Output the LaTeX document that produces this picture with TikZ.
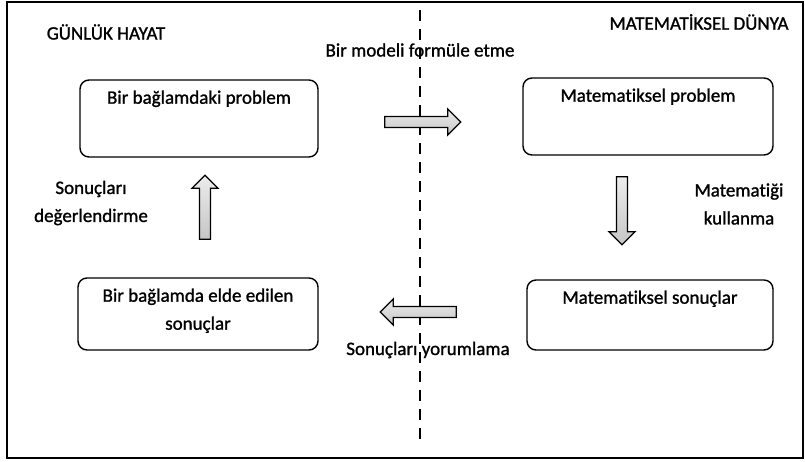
\documentclass[tikz,border=0pt]{standalone}
\usepackage{fontspec}
\setmainfont[Ligatures=NoCommon,FakeBold=1.2]{Carlito}
\usetikzlibrary{shapes.arrows}
\begin{document}
\begin{tikzpicture}[x=1pt,y=-1pt,
  every node/.style={font=\fontsize{19}{22}\selectfont},
  box/.style={draw,line width=1.4pt,rounded corners=9pt,inner sep=0pt},
  boxtext/.style={align=center,anchor=north},
  blockarrow/.style={single arrow,draw,line width=1.3pt,
    top color=gray!15,bottom color=gray!45,shading angle=0,
    minimum height=76pt,minimum width=26pt,single arrow head extend=5pt,inner sep=3pt},
  lbl/.style={align=center}]
  \useasboundingbox (0,0) rectangle (805,461);
  % outer frame
  \draw[line width=1.4pt] (7,2) rectangle (803,458);
  % divider between the two worlds
  \draw[line width=1.3pt,dash pattern=on 11pt off 8pt] (420,10) -- (420,442);
  % headings
  \node (gh) at (106,32) {GÜNLÜK HAYAT};
  \node (md) at (699,22) {MATEMATİKSEL DÜNYA};
  % boxes
  \draw[box] (80,80) rectangle (318,157);
  \node[boxtext] (b1) at (199,87) {Bir bağlamdaki problem};
  \draw[box] (523,78) rectangle (773,155);
  \node[boxtext] (b2) at (648,85) {Matematiksel problem};
  \draw[box] (78,278) rectangle (318,350);
  \node[boxtext] (b3) at (198,285) {Bir bağlamda elde edilen\\[6pt]sonuçlar};
  \draw[box] (527,280) rectangle (773,350);
  \node[boxtext] (b4) at (650,287) {Matematiksel sonuçlar};
  % block arrows
  \node[blockarrow] (ar) at (420,122) {};
  \node[blockarrow,shape border rotate=180] (al) at (421,312) {};
  \node[blockarrow,rotate=90,minimum height=64pt] (au) at (205,210) {};
  \node[blockarrow,rotate=-90,minimum height=68pt] (ad) at (622,208) {};
  % step labels
  \node[lbl] (l1) at (420,50) {Bir modeli formüle etme};
  \node[lbl] (l2) at (91,203) {Sonuçları\\[6pt]değerlendirme};
  \node[lbl] (l3) at (739,204) {Matematiği\\[6pt]kullanma};
  \node[lbl] (l4) at (428,350) {Sonuçları yorumlama};
\end{tikzpicture}
\end{document}
